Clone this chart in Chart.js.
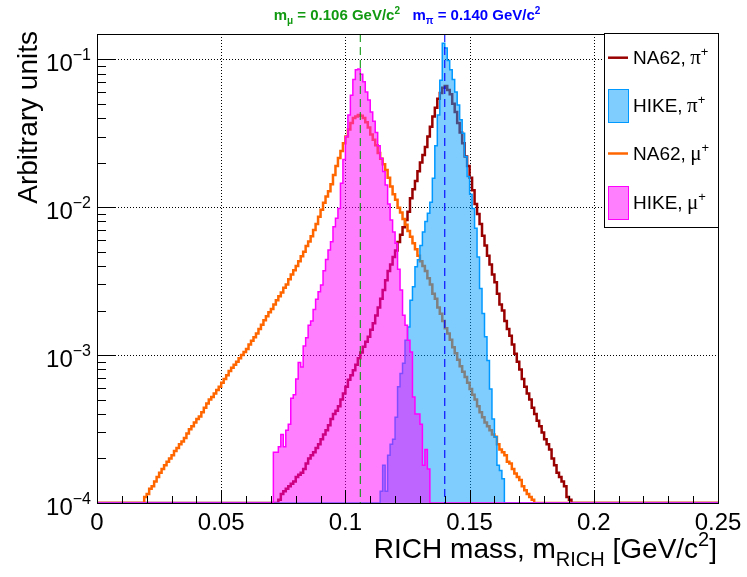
<!DOCTYPE html>
<html>
<head>
<meta charset="utf-8">
<title>RICH mass</title>
<script src="https://cdn.jsdelivr.net/npm/chart.js@4.4.1/dist/chart.umd.min.js"></script>
<style>
  html, body { margin: 0; padding: 0; background: #fff; }
  #wrap { width: 747px; height: 577px; }
</style>
</head>
<body>
<div id="wrap"><canvas id="grafico" width="747" height="577"></canvas></div>
<script>
// axis ranges and ticks
const xMin = 0;
const xMax = 0.25;
const yMin = 1e-4;
const yMax = 0.148;
const binWidth = 0.001;
const xTicks = [0, 0.05, 0.1, 0.15, 0.2, 0.25];
const xTickLabels = ["0", "0.05", "0.1", "0.15", "0.2", "0.25"];
const yTicks = [1e-4, 1e-3, 1e-2, 1e-1];
const yTickExp = ["\u22124", "\u22123", "\u22122", "\u22121"];
const massMu = 0.106;
const massPi = 0.140;

// histogram contents, one value per 0.001 bin, starting at the given lower edge
const na62PiStart = 0.073;
const na62Pi = [
  1.05e-4, 1.15e-4, 1.2e-4, 1.25e-4, 1.3e-4, 1.35e-4, 1.4e-4, 1.5e-4, 1.55e-4, 1.6e-4,
  1.7e-4, 1.85e-4, 2.0e-4, 2.1e-4, 2.2e-4, 2.35e-4, 2.5e-4, 2.7e-4, 2.9e-4, 3.1e-4,
  3.35e-4, 3.7e-4, 4.0e-4, 4.2e-4, 4.5e-4, 5.0e-4, 5.5e-4, 6.1e-4, 6.8e-4, 7.3e-4,
  7.9e-4, 8.6e-4, 9.5e-4, 1.04e-3, 1.14e-3, 1.23e-3, 1.33e-3, 1.48e-3, 1.64e-3, 1.85e-3,
  2.1e-3, 2.4e-3, 2.75e-3, 3.2e-3, 3.7e-3, 4.1e-3, 4.6e-3, 5.1e-3, 5.8e-3, 6.5e-3,
  7.3e-3, 8.2e-3, 9.3e-3, 0.0115, 0.0132, 0.015, 0.0175, 0.020, 0.0225, 0.0255,
  0.030, 0.035, 0.041, 0.047, 0.054, 0.059, 0.064, 0.066, 0.062, 0.058,
  0.050, 0.044, 0.037, 0.032, 0.027, 0.022, 0.019, 0.0158, 0.013, 0.0105,
  0.0090, 0.0077, 0.0064, 0.0055, 0.0047, 0.0041, 0.0035, 0.0031, 0.0026, 0.0022,
  0.0020, 0.0017, 0.0015, 0.00135, 0.00118, 0.00102, 0.00090, 0.00080, 0.00069, 0.00061,
  0.00055, 0.00050, 0.00044, 0.00040, 0.00036, 0.00033, 0.00030, 0.00027, 0.00025, 0.00023,
  0.00020, 0.00018, 0.00016, 0.00015, 0.00014, 0.00013, 0.00011, 0.000105
];

const na62MuStart = 0.019;
const na62Mu = [
  1.1e-4, 1.15e-4, 1.25e-4, 1.3e-4, 1.4e-4, 1.5e-4, 1.6e-4, 1.7e-4, 1.8e-4, 1.9e-4,
  2.0e-4, 2.1e-4, 2.25e-4, 2.35e-4, 2.5e-4, 2.6e-4, 2.75e-4, 2.95e-4, 3.15e-4, 3.3e-4,
  3.5e-4, 3.7e-4, 3.85e-4, 4.1e-4, 4.4e-4, 4.7e-4, 5.0e-4, 5.2e-4, 5.5e-4, 5.8e-4,
  6.1e-4, 6.5e-4, 6.9e-4, 7.3e-4, 7.8e-4, 8.2e-4, 8.6e-4, 9.0e-4, 9.5e-4, 1.0e-3,
  1.05e-3, 1.1e-3, 1.18e-3, 1.25e-3, 1.32e-3, 1.4e-3, 1.5e-3, 1.6e-3, 1.72e-3, 1.83e-3,
  1.95e-3, 2.05e-3, 2.2e-3, 2.35e-3, 2.5e-3, 2.65e-3, 2.85e-3, 3.0e-3, 3.25e-3, 3.5e-3,
  3.75e-3, 4.0e-3, 4.3e-3, 4.65e-3, 5.0e-3, 5.45e-3, 5.85e-3, 6.35e-3, 7.0e-3, 7.7e-3,
  8.6e-3, 9.6e-3, 0.0107, 0.0118, 0.0128, 0.0143, 0.0165, 0.019, 0.0215, 0.024,
  0.027, 0.030, 0.0335, 0.037, 0.040, 0.041, 0.042, 0.0415, 0.040, 0.0375,
  0.0345, 0.031, 0.0285, 0.0262, 0.0232, 0.0212, 0.0195, 0.0178, 0.0158, 0.0138,
  0.0122, 0.0112, 0.0099, 0.0092, 0.0083, 0.0076, 0.0069, 0.0063, 0.0057, 0.0052,
  0.0047, 0.0043, 0.0040, 0.0037, 0.0033, 0.0030, 0.0026, 0.0024, 0.0021, 0.0019,
  0.0017, 0.00152, 0.0014, 0.00127, 0.00113, 0.00103, 0.00093, 0.00084, 0.00077, 0.00071,
  0.00065, 0.00059, 0.00054, 0.00050, 0.00045, 0.00041, 0.00038, 0.00035, 0.00033, 0.00031,
  0.00029, 0.00028, 0.00025, 0.00023, 0.00022, 0.00021, 0.00019, 0.000185, 0.00017, 0.000158,
  0.00015, 0.000143, 0.00013, 0.000122, 0.000115, 0.00011, 0.000105
];

const hikePiStart = 0.114;
const hikePi = [
  1.2e-4, 1.8e-4, 1.2e-4, 2.1e-4, 2.5e-4, 2.7e-4, 3.8e-4, 6.1e-4, 7.5e-4, 8.8e-4,
  1.26e-3, 1.55e-3, 2.35e-3, 2.9e-3, 3.95e-3, 4.4e-3, 5.5e-3, 6.8e-3, 8.0e-3, 9.1e-3,
  0.0108, 0.0157, 0.026, 0.042, 0.072, 0.128, 0.119, 0.098, 0.085, 0.073,
  0.060, 0.049, 0.039, 0.0316, 0.022, 0.0161, 0.0122, 0.0098, 0.0072, 0.0046,
  0.00282, 0.00191, 0.00133, 0.00092, 0.00059, 0.00037, 0.00028, 0.00018, 0.000166, 0.000146
];

const hikeMuStart = 0.071;
const hikeMu = [
  2.2e-4, 2.2e-4, 2.4e-4, 2.9e-4, 2.4e-4, 3.1e-4, 3.4e-4, 5.1e-4, 5.4e-4, 6.9e-4,
  8.9e-4, 8.3e-4, 1.15e-3, 1.31e-3, 1.59e-3, 1.70e-3, 2.03e-3, 2.38e-3, 2.68e-3, 2.97e-3,
  3.71e-3, 4.43e-3, 5.13e-3, 5.83e-3, 7.37e-3, 8.4e-3, 9.8e-3, 0.0145, 0.021, 0.030,
  0.042, 0.057, 0.073, 0.085, 0.086, 0.079, 0.0705, 0.060, 0.053, 0.044,
  0.038, 0.032, 0.026, 0.0214, 0.0174, 0.0141, 0.0105, 0.0082, 0.0068, 0.0057,
  0.0038, 0.00275, 0.00186, 0.00159, 0.00126, 0.00105, 0.00052, 0.00040, 0.00040, 0.00034,
  0.00018, 0.00023, 0.00017
];

const SANS = '"Liberation Sans", Arial, sans-serif';
const SERIF = '"Liberation Serif", "Times New Roman", serif';

// empty bins are drawn on the lower edge of the frame, like ROOT does
function pontosHist(inicio, valores) {
  var pts = [{ x: xMin, y: yMin }];
  for (var i = 0; i < valores.length; i++) {
    pts.push({ x: inicio + i * binWidth, y: valores[i] });
  }
  pts.push({ x: inicio + valores.length * binWidth, y: yMin });
  pts.push({ x: xMax, y: yMin });
  return pts;
}

function textoRico(ctx, partes, x, y, align) {
  var total = 0;
  partes.forEach(function (p) {
    ctx.font = p.font;
    p.w = ctx.measureText(p.t).width;
    total += p.w;
  });
  var cx = x;
  if (align === "right") cx = x - total;
  if (align === "center") cx = x - total / 2;
  partes.forEach(function (p) {
    ctx.font = p.font;
    ctx.fillStyle = p.color || "#000";
    ctx.fillText(p.t, cx, y + (p.dy || 0));
    cx += p.w;
  });
}

const rootStyle = {
  id: "rootStyle",
  beforeDatasetsDraw(chart) {
    var ctx = chart.ctx;
    var a = chart.chartArea;
    var sx = chart.scales.x;
    var sy = chart.scales.y;
    ctx.save();
    ctx.strokeStyle = "#000";
    ctx.lineWidth = 1;
    ctx.setLineDash([1, 2]);
    xTicks.forEach(function (v) {
      if (v <= xMin || v >= xMax) return;
      var px = Math.round(sx.getPixelForValue(v)) + 0.5;
      ctx.beginPath();
      ctx.moveTo(px, a.top);
      ctx.lineTo(px, a.bottom);
      ctx.stroke();
    });
    yTicks.forEach(function (v) {
      if (v <= yMin) return;
      var py = Math.round(sy.getPixelForValue(v)) + 0.5;
      ctx.beginPath();
      ctx.moveTo(a.left, py);
      ctx.lineTo(a.right, py);
      ctx.stroke();
    });
    ctx.restore();
  },
  afterDatasetsDraw(chart) {
    var ctx = chart.ctx;
    var a = chart.chartArea;
    var sx = chart.scales.x;
    var sy = chart.scales.y;
    ctx.save();

    // nominal masses
    ctx.lineWidth = 1.1;
    ctx.setLineDash([8, 5]);
    [[massMu, "#119911"], [massPi, "#0000ff"]].forEach(function (m) {
      var px = sx.getPixelForValue(m[0]);
      ctx.strokeStyle = m[1];
      ctx.beginPath();
      ctx.moveTo(px, a.top);
      ctx.lineTo(px, a.bottom);
      ctx.stroke();
    });
    ctx.setLineDash([]);

    // frame
    ctx.strokeStyle = "#000";
    ctx.lineWidth = 1;
    ctx.strokeRect(Math.round(a.left) + 0.5, Math.round(a.top) + 0.5,
      Math.round(a.right - a.left), Math.round(a.bottom - a.top));

    // x ticks
    ctx.beginPath();
    for (var i = 0; i <= 25; i++) {
      var v = i * 0.01;
      var px = Math.round(sx.getPixelForValue(v)) + 0.5;
      var len = i % 5 === 0 ? 13 : 7;
      ctx.moveTo(px, a.bottom);
      ctx.lineTo(px, a.bottom - len);
    }
    // y ticks
    yTicks.forEach(function (dec) {
      for (var m = 1; m <= 9; m++) {
        var v = dec * m;
        if (v > yMax) break;
        var py = Math.round(sy.getPixelForValue(v)) + 0.5;
        ctx.moveTo(a.left, py);
        ctx.lineTo(a.left + (m === 1 ? 19 : 9), py);
      }
    });
    ctx.stroke();

    // tick labels
    ctx.textBaseline = "alphabetic";
    ctx.fillStyle = "#000";
    ctx.font = "24px " + SANS;
    ctx.textAlign = "center";
    xTicks.forEach(function (v, k) {
      ctx.fillText(xTickLabels[k], sx.getPixelForValue(v), 530);
    });
    ctx.textAlign = "left";
    yTicks.forEach(function (v, k) {
      var py = sy.getPixelForValue(v);
      textoRico(ctx, [
        { t: "10", font: "24px " + SANS, dy: 12 },
        { t: yTickExp[k], font: "16px " + SANS, dy: 1 }
      ], 91, py, "right");
    });

    // axis titles
    textoRico(ctx, [
      { t: "RICH mass, m", font: "28px " + SANS },
      { t: "RICH", font: "20px " + SANS, dy: 8 },
      { t: " [GeV/c", font: "28px " + SANS },
      { t: "2", font: "20px " + SANS, dy: -12 },
      { t: "]", font: "28px " + SANS }
    ], 717, 558, "right");

    ctx.save();
    ctx.translate(37, 31);
    ctx.rotate(-Math.PI / 2);
    ctx.font = "28px " + SANS;
    ctx.textAlign = "right";
    ctx.fillText("Arbitrary units", 0, 0);
    ctx.restore();
    ctx.textAlign = "left";

    // title
    var verde = "#119911";
    var azul = "#0000ff";
    textoRico(ctx, [
      { t: "m", font: "bold 15px " + SANS, color: verde },
      { t: "\u03bc", font: "bold 10px " + SANS, dy: 4, color: verde },
      { t: " = 0.106 GeV/c", font: "bold 15px " + SANS, color: verde },
      { t: "2", font: "bold 10px " + SANS, dy: -6, color: verde },
      { t: "   m", font: "bold 15px " + SANS, color: azul },
      { t: "\u03c0", font: "bold 10px " + SANS, dy: 4, color: azul },
      { t: " = 0.140 GeV/c", font: "bold 15px " + SANS, color: azul },
      { t: "2", font: "bold 10px " + SANS, dy: -6, color: azul }
    ], 407, 20, "center");

    // legend
    var lx = 604, ly = 33, lw = 114, lh = 194;
    ctx.fillStyle = "#fff";
    ctx.fillRect(lx, ly, lw, lh);
    ctx.strokeStyle = "#000";
    ctx.lineWidth = 1;
    ctx.strokeRect(lx + 0.5, ly + 0.5, lw, lh);
    var itens = [
      { nome: "NA62,", grego: "\u03c0", tipo: "linha", cor: "#990000", y: 57.7 },
      { nome: "HIKE,", grego: "\u03c0", tipo: "caixa", cor: "#0099ff", fundo: "rgba(0,153,255,0.5)", y: 106 },
      { nome: "NA62,", grego: "\u03bc", tipo: "linha", cor: "#ff6600", y: 153.5 },
      { nome: "HIKE,", grego: "\u03bc", tipo: "caixa", cor: "#ff00ff", fundo: "rgba(255,0,255,0.5)", y: 203 }
    ];
    itens.forEach(function (it) {
      if (it.tipo === "linha") {
        ctx.strokeStyle = it.cor;
        ctx.lineWidth = 2.5;
        ctx.beginPath();
        ctx.moveTo(608, it.y);
        ctx.lineTo(628, it.y);
        ctx.stroke();
      } else {
        ctx.fillStyle = it.fundo;
        ctx.fillRect(608, it.y - 17, 20, 34);
        ctx.strokeStyle = it.cor;
        ctx.lineWidth = 1;
        ctx.strokeRect(608.5, it.y - 16.5, 20, 33);
      }
      textoRico(ctx, [
        { t: it.nome, font: "19px " + SANS },
        { t: " ", font: "16px " + SANS },
        { t: it.grego, font: "21px " + SERIF },
        { t: "+", font: "13px " + SANS, dy: -8 }
      ], 633, it.y + 6, "left");
    });

    ctx.restore();
  }
};

function conjunto(rotulo, inicio, valores, cor, fundo, largura, ordem) {
  return {
    label: rotulo,
    data: pontosHist(inicio, valores),
    stepped: "before",
    borderColor: cor,
    backgroundColor: fundo || cor,
    borderWidth: largura,
    fill: fundo ? "start" : false,
    pointRadius: 0,
    tension: 0,
    order: ordem
  };
}

new Chart(document.getElementById("grafico"), {
  type: "line",
  data: {
    datasets: [
      conjunto("HIKE, \u03bc+", hikeMuStart, hikeMu, "#ff00ff", "rgba(255,0,255,0.5)", 1.5, 1),
      conjunto("HIKE, \u03c0+", hikePiStart, hikePi, "#0099ff", "rgba(0,153,255,0.5)", 1.5, 2),
      conjunto("NA62, \u03bc+", na62MuStart, na62Mu, "#ff6600", null, 2.5, 3),
      conjunto("NA62, \u03c0+", na62PiStart, na62Pi, "#990000", null, 2.5, 4)
    ]
  },
  options: {
    responsive: false,
    devicePixelRatio: 1,
    animation: false,
    events: [],
    layout: { padding: { left: 97, top: 34, right: 29, bottom: 74 } },
    plugins: {
      legend: { display: false },
      tooltip: { enabled: false }
    },
    scales: {
      x: { type: "linear", min: xMin, max: xMax, display: false },
      y: { type: "logarithmic", min: yMin, max: yMax, display: false }
    }
  },
  plugins: [rootStyle]
});
</script>
</body>
</html>
